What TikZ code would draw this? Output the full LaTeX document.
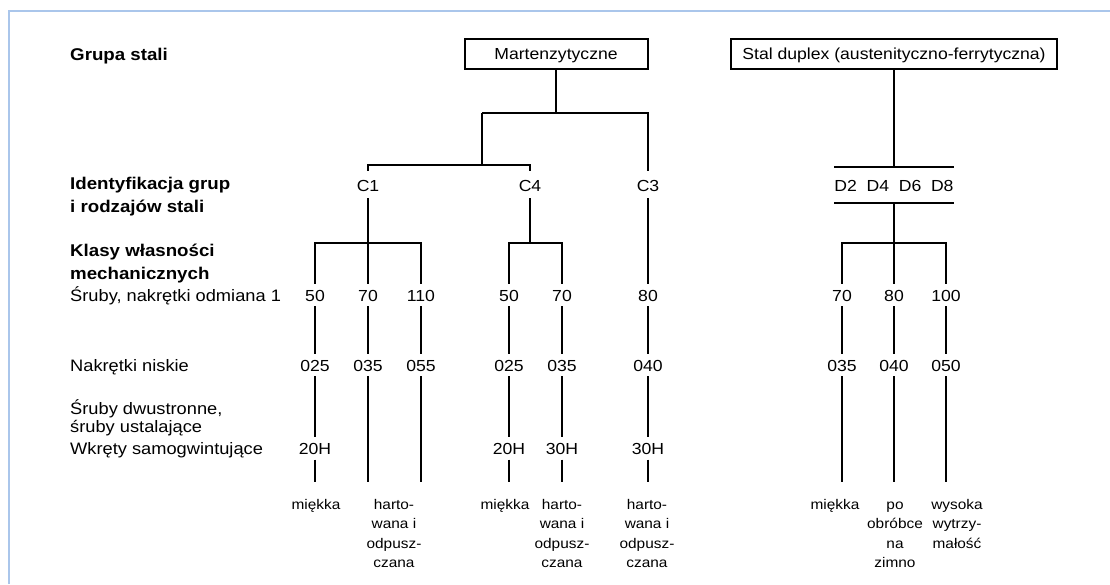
\documentclass[tikz,border=0pt]{standalone}
\usepackage{fontspec}
\setmainfont{Liberation Sans}[FakeStretch=1.1]
\definecolor{framecol}{RGB}{170,198,235}
\begin{document}
\begin{tikzpicture}[x=1pt,y=-1pt,
  conn/.style={line width=2pt},
  box/.style={draw, line width=2pt, inner sep=0pt, minimum height=30pt, text height=11.5pt, text depth=0pt, font=\fontsize{16}{19}\selectfont},
  head/.style={anchor=base west, inner sep=0pt, align=left, font=\bfseries\fontsize{17}{23}\selectfont},
  rowlab/.style={anchor=base west, inner sep=0pt, align=left, font=\fontsize{16.6}{18}\selectfont},
  cval/.style={anchor=base, inner sep=0pt, text height=20.7pt, text depth=6.3pt, font=\fontsize{16}{19}\selectfont},
  val/.style={anchor=base, inner sep=0pt, text height=17pt, text depth=5pt, font=\fontsize{16}{19}\selectfont},
  note/.style={anchor=base, inner sep=0pt, align=center, font=\fontsize{14}{19.5}\selectfont}
]
\useasboundingbox (0,0) rectangle (1110,584);
\draw[framecol, line width=2.5pt] (9,584) -- (9,11) -- (1110,11);

% left labels (base anchor = baseline of last line)
\node[head] (lg) at (70,60) {Grupa stali};
\node[head] (li) at (70,212) {Identyfikacja grup\\i rodzajów stali};
\node[head] (lk) at (70,279) {Klasy własności\\mechanicznych};
\node[rowlab] (l1) at (70,301) {Śruby, nakrętki odmiana 1};
\node[rowlab] (l2) at (70,371) {Nakrętki niskie};
\node[rowlab] (l3) at (70,432) {Śruby dwustronne,\\śruby ustalające};
\node[rowlab] (l4) at (70,454) {Wkręty samogwintujące};

% group boxes
\node[box, minimum width=183pt] (mart) at (556,54) {Martenzytyczne};
\node[box, minimum width=326pt] (dup) at (894,54) {Stal duplex (austenityczno-ferrytyczna)};

% identification
\node[cval] (c1) at (368,191.7) {C1};
\node[cval] (c4) at (530,191.7) {C4};
\node[cval] (c3) at (648,191.7) {C3};
\node[cval, text height=24.7pt, text depth=11.3pt] (dg) at (894,191.7) {D2\hspace{9.7pt}D4\hspace{9.7pt}D6\hspace{9.7pt}D8};

% row 1
\node[val] (a50) at (315,301) {50};
\node[val] (a70) at (368,301) {70};
\node[val] (a110) at (421,301) {110};
\node[val] (b50) at (509,301) {50};
\node[val] (b70) at (562,301) {70};
\node[val] (c80) at (648,301) {80};
\node[val] (d70) at (842,301) {70};
\node[val] (d80) at (894,301) {80};
\node[val] (d100) at (946,301) {100};
% row 2
\node[val] (a025) at (315,371.2) {025};
\node[val] (a035) at (368,371.2) {035};
\node[val] (a055) at (421,371.2) {055};
\node[val] (b025) at (509,371.2) {025};
\node[val] (b035) at (562,371.2) {035};
\node[val] (c040) at (648,371.2) {040};
\node[val] (d035) at (842,371.2) {035};
\node[val] (d040) at (894,371.2) {040};
\node[val] (d050) at (946,371.2) {050};
% row 3
\node[val] (a20H) at (315,454.5) {20H};
\node[val] (b20H) at (509,454.5) {20H};
\node[val] (b30H) at (562,454.5) {30H};
\node[val] (c30H) at (648,454.5) {30H};

% line ends
\coordinate (ea50) at (315,482);
\coordinate (ea70) at (368,482);
\coordinate (ea110) at (421,482);
\coordinate (eb50) at (509,482);
\coordinate (eb70) at (562,482);
\coordinate (ec80) at (648,482);
\coordinate (ed70) at (842,482);
\coordinate (ed80) at (894,482);
\coordinate (ed100) at (946,482);

% bottom notes (base anchor = baseline of last line; first line at 509)
\node[note] (na50) at (316,509) {miękka};
\node[note] (na70) at (394,567.5) {harto-\\wana i\\odpusz-\\czana};
\node[note] (nb50) at (505,509) {miękka};
\node[note] (nb70) at (562,567.5) {harto-\\wana i\\odpusz-\\czana};
\node[note] (nc80) at (647,567.5) {harto-\\wana i\\odpusz-\\czana};
\node[note] (nd70) at (835,509) {miękka};
\node[note] (nd80) at (895,567.5) {po\\obróbce\\na\\zimno};
\node[note] (nd100) at (957,548) {wysoka\\wytrzy-\\małość};

% tree: martensitic
\coordinate (mj) at (482,113);
\draw[conn] (mart.south) -- (mart.south |- mj);
\draw[conn] (mj) -| (c3.north);
\draw[conn] (mj) -- ++(0,52) coordinate (cj);
\draw[conn] (c1.north) |- (cj) -| (c4.north);
\draw[conn] (c1.south) -- ++(0,45) coordinate (k1);
\draw[conn] (a50.north) |- (k1) -| (a110.north);
\draw[conn] (k1) -- (a70.north);
\draw[conn] (c4.south) -- ++(0,45) coordinate (k2);
\draw[conn] (b50.north) |- (k2) -| (b70.north);
\draw[conn] (c3.south) -- (c80.north);

% tree: duplex
\draw[conn] (dup.south) -- (dg.north);
\draw[conn] (dg.north west) -- (dg.north east);
\draw[conn] (dg.south west) -- (dg.south east);
\draw[conn] (dg.south) -- ++(0,40) coordinate (k3);
\draw[conn] (d70.north) |- (k3) -| (d100.north);
\draw[conn] (k3) -- (d80.north);

% verticals
\draw[conn] (a50.south) -- (a025.north);
\draw[conn] (a70.south) -- (a035.north);
\draw[conn] (a110.south) -- (a055.north);
\draw[conn] (b50.south) -- (b025.north);
\draw[conn] (b70.south) -- (b035.north);
\draw[conn] (c80.south) -- (c040.north);
\draw[conn] (d70.south) -- (d035.north);
\draw[conn] (d80.south) -- (d040.north);
\draw[conn] (d100.south) -- (d050.north);

\draw[conn] (a025.south) -- (a20H.north);
\draw[conn] (a20H.south) -- (ea50);
\draw[conn] (a035.south) -- (ea70);
\draw[conn] (a055.south) -- (ea110);
\draw[conn] (b025.south) -- (b20H.north);
\draw[conn] (b20H.south) -- (eb50);
\draw[conn] (b035.south) -- (b30H.north);
\draw[conn] (b30H.south) -- (eb70);
\draw[conn] (c040.south) -- (c30H.north);
\draw[conn] (c30H.south) -- (ec80);
\draw[conn] (d035.south) -- (ed70);
\draw[conn] (d040.south) -- (ed80);
\draw[conn] (d050.south) -- (ed100);
\end{tikzpicture}
\end{document}
